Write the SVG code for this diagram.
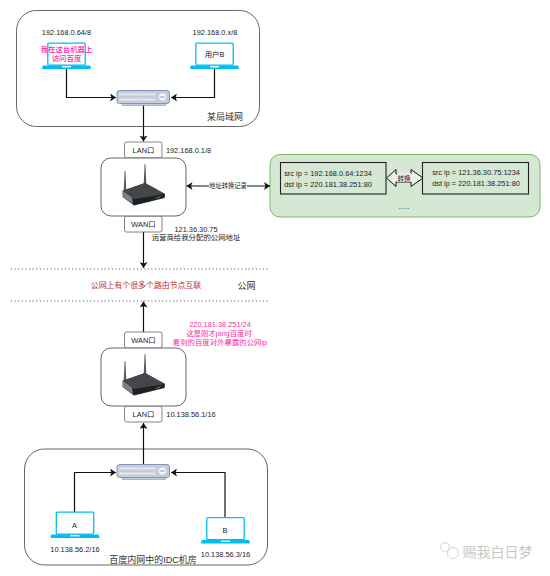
<svg xmlns="http://www.w3.org/2000/svg" width="550" height="576" viewBox="0 0 550 576">
<style>
text{font-family:"Liberation Sans","Noto Sans CJK SC",sans-serif;font-size:7.4px;fill:#222;text-anchor:middle}
.pk{fill:#ff2aa8}
.b{font-size:9px;fill:#333}
.zone{fill:#fff;stroke:#666;stroke-width:1}
.port{fill:#fff;stroke:#666;stroke-width:.8}
.line{fill:none;stroke:#111;stroke-width:1.2}
.dot{stroke:#444;stroke-width:1;stroke-dasharray:1 2.6;fill:none}
.nat{fill:none;stroke:#222;stroke-width:1.1}
</style>
<defs>
<marker id="arr" markerUnits="userSpaceOnUse" markerWidth="7" markerHeight="8" refX="6" refY="4" orient="auto-start-reverse"><path d="M0 0L6 4L0 8L1.500 4Z" fill="#111"/></marker>
<g id="laptop">
<rect x="0.800" y="0.600" width="37.400" height="22" rx="1" fill="#fff" stroke="#00bef2" stroke-width="1.300"/>
<path d="M-4 23H43L44 25.500Q44 26.500 43 26.500H-4Q-5 26.500 -5 25.500Z" fill="#00bef2"/>
<rect x="15" y="23.600" width="9" height="1.300" fill="#fff"/>
</g>
<g id="hub">
<rect x="6" y="12" width="43" height="3.500" fill="#c3cde2" stroke="#7f93c0" stroke-width=".6"/>
<rect x=".5" y=".5" width="52.500" height="13" rx="2.500" fill="#c9cdd6" stroke="#7f93c0" stroke-width="1"/>
<path d="M3 4.500H39M3 9.500H39" stroke="#f2f3f6" stroke-width="2" stroke-dasharray="2 1"/>
<circle cx="46" cy="7" r="4.200" fill="#f4f6fb" stroke="#a9b4cf" stroke-width=".6"/>
<path d="M43.500 7H48" stroke="#6a86c0" stroke-width=".8"/>
</g>
<g id="router">
<path d="M124.600 171L125.400 171L126.400 193H123.600Z" fill="#55595d"/>
<path d="M144.600 164L145.400 164L146.400 186H143.600Z" fill="#55595d"/>
<path d="M122.700 190.700L145 183L165 194L164.500 198L134 205.500L128 201L122.700 197Z" fill="#1f2022"/>
<path d="M122.700 190.700L145 183L165 194L134 199Z" fill="#43464a"/>
<path d="M122.700 190.700L132 197.500L133 204L122.700 197Z" fill="#7a818c"/>
<path d="M156 198.500L161 196.500" stroke="#5fd05f" stroke-width="1" stroke-dasharray="1.500 1"/>
</g>
</defs>

<g id="zone-lan"><rect class="zone" x="16.500" y="10.500" width="243" height="116" rx="20"/><text class="b" x="225" y="120">某局域网</text></g>
<g id="zone-idc"><rect class="zone" x="24.500" y="449" width="243" height="116" rx="20"/><text class="b" x="153" y="563">百度内网中的IDC机房</text></g>
<g id="zone-nat"><rect x="270" y="154.500" width="270" height="62.500" rx="10" fill="#d5e8d4" stroke="#82b366" stroke-width="1"/><text x="404" y="209" style="font-size:8px;fill:#444">.....</text></g>

<g id="connectors">
<path class="line" d="M66.500 68V97.500H116" marker-end="url(#arr)"/>
<path class="line" d="M214.500 68V97.500H171" marker-end="url(#arr)"/>
<path class="line" d="M143.500 104V141.500" marker-end="url(#arr)"/>
<path class="line" d="M143.500 232V268" marker-end="url(#arr)"/>
<path class="line" d="M186.500 186H270" marker-start="url(#arr)" marker-end="url(#arr)"/>
<path class="line" d="M143.500 332V301.500" marker-end="url(#arr)"/>
<path class="line" d="M143.500 464V423" marker-end="url(#arr)"/>
<path class="line" d="M74.500 512V472.500H116" marker-end="url(#arr)"/>
<path class="line" d="M225 520V472.500H171" marker-end="url(#arr)"/>
<path class="dot" d="M11 269H270"/>
<path class="dot" d="M11 301H270"/>
</g>

<g id="laptop-1"><use href="#laptop" x="47" y="42.500"/><text class="pk" x="66.500" y="52" style="font-weight:500">我在这台机器上</text><text class="pk" x="66.500" y="60.500" style="font-weight:500">访问百度</text><text x="66.500" y="34.500">192.168.0.64/8</text></g>
<g id="laptop-2"><use href="#laptop" x="195" y="42.500"/><text x="214.500" y="57">用户B</text><text x="215" y="34.500">192.168.0.x/8</text></g>
<g id="hub-1"><use href="#hub" x="116.500" y="90"/></g>
<g id="router-1"><rect class="port" x="124.500" y="142" width="37.500" height="16" rx="2"/><text x="143.500" y="153">LAN口</text><rect class="port" x="124.500" y="216" width="37.500" height="16" rx="2"/><text x="143.500" y="227">WAN口</text><rect class="zone" x="101" y="158" width="85" height="58" rx="10"/><use href="#router"/><text x="188.500" y="153">192.168.0.1/8</text><text x="196" y="231.500">121.36.30.75</text><text x="196" y="240">运营商给我分配的公网地址</text></g>
<g id="nat-label"><rect x="209" y="182" width="38" height="8" fill="#fff"/><text x="228" y="188.300" style="font-size:6.300px">地址转换记录</text></g>
<g id="nat-left"><rect class="nat" x="280.500" y="162.500" width="105.500" height="31.500"/><text x="328" y="176">src ip = 192.168.0.64:1234</text><text x="328" y="187">dst ip = 220.181.38.251:80</text></g>
<g id="nat-right"><rect class="nat" x="422.500" y="162.500" width="106" height="31.500"/><text x="476" y="175">src ip = 121.36.30.75:1234</text><text x="476" y="186">dst ip = 220.181.38.251:80</text></g>
<g id="nat-arrow"><path d="M386.500 178L396 169.500V174H411V169.500L423 178L411 186.500V182H396V186.500Z" fill="#e8f2e6" stroke="#111" stroke-width="1"/><rect x="397" y="173" width="14" height="9" fill="#efe6ee"/><text x="404" y="180.500" style="font-size:6.500px">转换</text></g>

<g id="public-net"><text x="146" y="288" style="fill:#c0302f;font-size:7.900px">公网上有个很多个路由节点互联</text><text class="b" x="246.500" y="288.500">公网</text></g>
<g id="public-ip"><text class="pk" x="220" y="327">220.181.38.251/24</text><text class="pk" x="219" y="336">这是刚才ping百度时</text><text class="pk" x="220" y="345">看到的百度对外暴露的公网ip</text></g>

<g id="router-2"><rect class="port" x="124.500" y="332" width="37.500" height="16" rx="2"/><text x="143.500" y="343">WAN口</text><rect class="port" x="124.500" y="406" width="37.500" height="16" rx="2"/><text x="143.500" y="417">LAN口</text><rect class="zone" x="101" y="348" width="85" height="58" rx="10"/><use href="#router" y="190"/><text x="191" y="417">10.138.56.1/16</text></g>
<g id="hub-2"><use href="#hub" x="116.500" y="464"/></g>
<g id="laptop-a"><use href="#laptop" x="55.500" y="511.500"/><text x="74.500" y="528">A</text><text x="75" y="551.500">10.138.56.2/16</text></g>
<g id="laptop-b"><use href="#laptop" x="206" y="517"/><text x="225" y="533">B</text><text x="225.500" y="557">10.138.56.3/16</text></g>
<g id="watermark"><text x="497.500" y="557" style="font-size:14px;fill:#c8c8c8">赐我白日梦</text><circle cx="445" cy="547" r="4.500" fill="none" stroke="#d6d6d6"/><circle cx="453" cy="553" r="5.500" fill="#fff" stroke="#d6d6d6"/></g>
</svg>
